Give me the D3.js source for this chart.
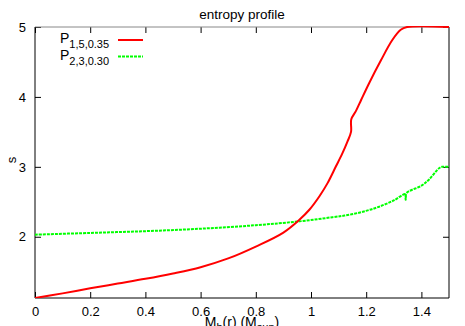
<!DOCTYPE html>
<meta charset="utf-8">
<style>
body { margin: 0; background: #fff; }
svg text { font-family: "Liberation Sans", Arial, sans-serif; fill: #000; }
.axis path, .axis line { stroke: #000; }
.axis text { font-size: 13px; }
.line { fill: none; stroke-width: 2px; }
</style>
<body>
<svg id="svg" width="465" height="326"></svg>
<script src="https://cdnjs.cloudflare.com/ajax/libs/d3/7.8.5/d3.min.js"></script>
<script>

// red: P 1,5,0.35
var redMass = [0, 0.1, 0.2, 0.3, 0.4, 0.5, 0.6, 0.7, 0.8, 0.9, 0.958, 0.994, 1.03, 1.06, 1.09, 1.114, 1.132, 1.145, 1.146, 1.163, 1.182, 1.211, 1.253, 1.294, 1.325, 1.348, 1.5];
var redS    = [1.124, 1.19, 1.262, 1.33, 1.398, 1.475, 1.565, 1.69, 1.86, 2.06, 2.243, 2.386, 2.576, 2.767, 3.004, 3.195, 3.36, 3.5, 3.68, 3.8, 3.96, 4.2, 4.52, 4.81, 4.96, 5.0, 5.0];

// green: P 2,3,0.30
var greenMass = [0, 0.2, 0.4, 0.6, 0.8, 0.958, 1.078, 1.14, 1.199, 1.247, 1.3, 1.342, 1.343, 1.345, 1.4, 1.428, 1.464, 1.475, 1.5];
var greenS    = [2.03, 2.055, 2.08, 2.115, 2.165, 2.22, 2.28, 2.315, 2.37, 2.43, 2.52, 2.61, 2.53, 2.62, 2.73, 2.82, 2.98, 3.0, 3.0];

var xTicks = [0, 0.2, 0.4, 0.6, 0.8, 1, 1.2, 1.4];
var yTicks = [2, 3, 4, 5];

var svg = d3.select("svg"),
    margin = {top: 27, right: 16, bottom: 28, left: 35},
    width = +svg.attr("width") - margin.left - margin.right,
    height = +svg.attr("height") - margin.top - margin.bottom,
    g = svg.append("g").attr("transform", "translate(" + margin.left + "," + margin.top + ")");

var x = d3.scaleLinear().domain([0, 1.5]).range([0, width]),
    y = d3.scaleLinear().domain([1.124, 5]).range([height, 0]);

var line = d3.line()
    .curve(d3.curveCatmullRom.alpha(0.5))
    .x(function(d) { return x(d[0]); })
    .y(function(d) { return y(d[1]); });

// mirror ticks on top and right
g.append("g")
    .attr("class", "axis")
    .call(d3.axisTop(x).tickValues(xTicks).tickSize(-6).tickFormat(""))
    .select(".domain").remove();
g.append("g")
    .attr("class", "axis")
    .attr("transform", "translate(" + width + ",0)")
    .call(d3.axisRight(y).tickValues(yTicks).tickSize(-6).tickFormat(""))
    .select(".domain").remove();

g.append("g")
    .attr("class", "axis")
    .attr("transform", "translate(0," + height + ")")
    .call(d3.axisBottom(x).tickValues(xTicks).tickSize(-6).tickPadding(9).tickFormat(d3.format("")))
    .select(".domain").remove();

g.append("g")
    .attr("class", "axis")
    .call(d3.axisLeft(y).tickValues(yTicks).tickSize(-6).tickPadding(9).tickFormat(d3.format("")))
    .select(".domain").remove();

// border
g.append("line").attr("x1", 0).attr("x2", width).attr("y1", 0).attr("y2", 0).attr("stroke", "#888");
g.append("line").attr("x1", 0).attr("x2", width).attr("y1", height).attr("y2", height).attr("stroke", "#000");
g.append("line").attr("x1", 0).attr("x2", 0).attr("y1", 0).attr("y2", height).attr("stroke", "#000");
g.append("line").attr("x1", width).attr("x2", width).attr("y1", 0).attr("y2", height).attr("stroke", "#000");

svg.append("clipPath").attr("id", "clip")
  .append("rect").attr("x", 0).attr("y", -1).attr("width", width).attr("height", height + 1);

g.append("path")
    .datum(greenMass.map(function(m, i) { return [m, greenS[i]]; }))
    .attr("class", "line")
    .attr("clip-path", "url(#clip)")
    .attr("stroke", "#00ff00")
    .attr("stroke-dasharray", "3,1")
    .attr("d", line);

g.append("path")
    .datum(redMass.map(function(m, i) { return [m, redS[i]]; }))
    .attr("class", "line")
    .attr("clip-path", "url(#clip)")
    .attr("stroke", "#ff0000")
    .attr("d", line);

// legend
var legend = [
  {sub: "1,5,0.35", color: "#ff0000", dash: null},
  {sub: "2,3,0.30", color: "#00ff00", dash: "3,1"}
];
legend.forEach(function(d, i) {
  var yy = 40 + i * 16.5;
  var t = svg.append("text").attr("x", 60).attr("y", yy + 3).style("font-size", "14px");
  t.append("tspan").text("P");
  t.append("tspan").attr("dy", 5).style("font-size", "11px").text(d.sub);
  svg.append("line")
      .attr("x1", 118).attr("x2", 143).attr("y1", yy).attr("y2", yy)
      .attr("stroke", d.color).attr("stroke-width", 2)
      .attr("stroke-dasharray", d.dash);
});

svg.append("text")
    .attr("x", 242).attr("y", 19)
    .attr("text-anchor", "middle")
    .style("font-size", "13.5px")
    .text("entropy profile");

svg.append("text")
    .attr("transform", "translate(16,160) rotate(-90)")
    .attr("text-anchor", "middle")
    .style("font-size", "13px")
    .text("s");

var xl = svg.append("text")
    .attr("x", 242).attr("y", 327)
    .attr("text-anchor", "middle")
    .style("font-size", "14px");
xl.append("tspan").text("M");
xl.append("tspan").attr("dy", 4).style("font-size", "11px").text("b");
xl.append("tspan").attr("dy", -4).text("(r) (M");
xl.append("tspan").attr("dy", 4).style("font-size", "11px").text("sun");
xl.append("tspan").attr("dy", -4).text(")");

</script>
</body>
